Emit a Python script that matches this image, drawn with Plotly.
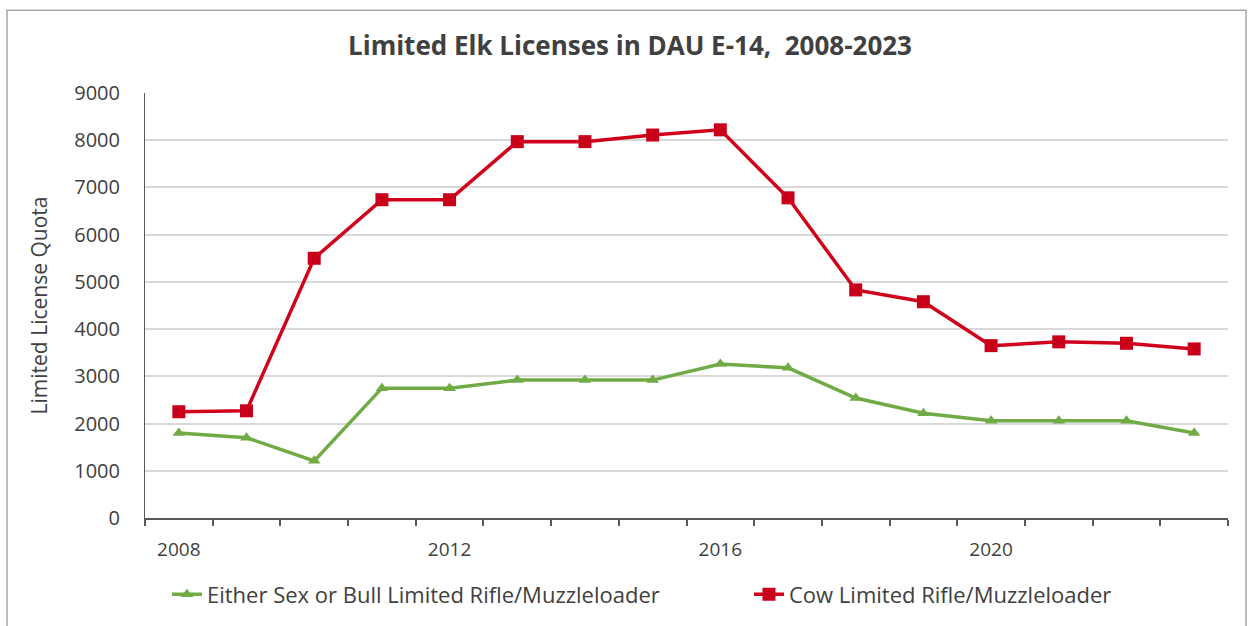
import plotly.graph_objects as go

years = list(range(2008, 2024))
either_sex_bull = [1800, 1700, 1210, 2750, 2750, 2920, 2920, 2920,
                   3260, 3180, 2540, 2220, 2060, 2060, 2060, 1800]
cow = [2250, 2270, 5500, 6740, 6740, 7970, 7970, 8110,
       8220, 6780, 4830, 4580, 3650, 3730, 3700, 3580]
year_labels = [2008, 2012, 2016, 2020]
y_ticks = list(range(0, 10000, 1000))

TEXT = "#404040"
FONT = "Open Sans"

fig = go.Figure()
fig.add_trace(go.Scatter(
    x=years, y=either_sex_bull, mode="lines+markers",
    name="Either Sex or Bull Limited Rifle/Muzzleloader",
    line=dict(color="#70ab45", width=3.5),
    marker=dict(symbol="triangle-up", size=11, color="#70ab45"),
    legend="legend",
))
fig.add_trace(go.Scatter(
    x=years, y=cow, mode="lines+markers",
    name="Cow Limited Rifle/Muzzleloader",
    line=dict(color="#d0021b", width=3.5),
    marker=dict(symbol="square", size=13, color="#c8001a"),
    legend="legend2",
))

legend_style = dict(orientation="h", yanchor="middle", y=-0.18, xanchor="left",
                    font=dict(family=FONT, size=22, color=TEXT),
                    bgcolor="rgba(0,0,0,0)")

fig.update_layout(
    width=1250, height=626,
    margin=dict(l=145, r=22, t=93, b=108, autoexpand=False),
    paper_bgcolor="white", plot_bgcolor="white",
    font=dict(family=FONT, color=TEXT, size=18),
    title=dict(text="<b>Limited Elk Licenses in DAU E-14,  2008-2023</b>",
               x=0.504, xanchor="center", y=0.927, yanchor="middle",
               font=dict(family=FONT, size=26, color=TEXT)),
    showlegend=True,
    legend=dict(x=0.0203, **legend_style),
    legend2=dict(x=0.5577, **legend_style),
    xaxis=dict(
        range=[2007.5, 2023.5], tickmode="array", tickvals=year_labels,
        ticktext=[str(v) for v in year_labels], ticks="", showgrid=False,
        zeroline=False, showline=True, linecolor="#595959", linewidth=2,
        tickfont=dict(family=FONT, size=19, color=TEXT), ticklabelstandoff=13,
        minor=dict(ticks="outside", tick0=2007.5, dtick=1, ticklen=6,
                   tickcolor="#595959", tickwidth=1.5, showgrid=False),
    ),
    yaxis=dict(
        range=[0, 9000], tickmode="array", tickvals=y_ticks, ticks="",
        showgrid=True, gridcolor="#d9d9d9", gridwidth=1.5, zeroline=False,
        showline=True, linecolor="#595959", linewidth=1,
        tickfont=dict(family=FONT, size=20, color=TEXT), ticklabelstandoff=20,
        title=dict(text="Limited License Quota", standoff=20,
                   font=dict(family=FONT, size=21, color=TEXT)),
    ),
)

# chart frame
fig.add_shape(type="rect", xref="paper", yref="paper",
              x0=-0.1274, x1=1.0166, y0=-0.26, y1=1.195,
              line=dict(color="#a6a6a6", width=1.5), fillcolor="rgba(0,0,0,0)",
              layer="below")

fig.write_html("out.html")
